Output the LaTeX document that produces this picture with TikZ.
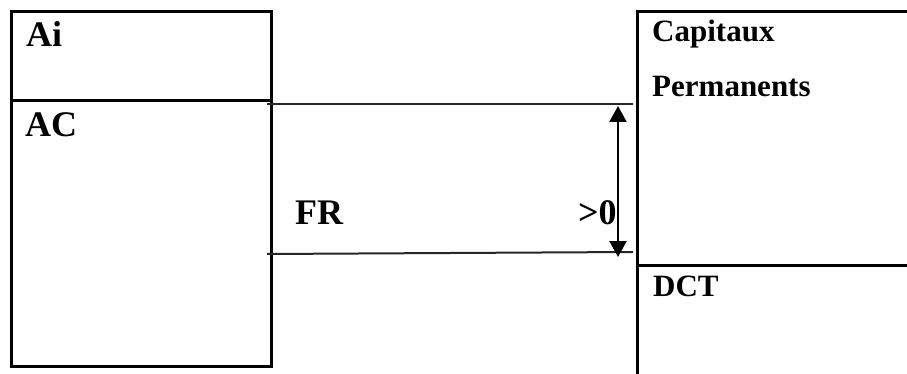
\documentclass[tikz,border=0pt]{standalone}
\usepackage{fontspec}
\setmainfont{Liberation Serif}
\usetikzlibrary{arrows.meta}
\begin{document}
\begin{tikzpicture}[x=1pt,y=-1pt,
  boxline/.style={line width=3pt},
  thinline/.style={line width=2pt, black!85},
  bigtxt/.style={anchor=base west, inner sep=0pt, font=\fontsize{36}{40}\selectfont\bfseries},
  smalltxt/.style={anchor=base west, inner sep=0pt, font=\fontsize{31}{36}\selectfont\bfseries},
  dimarrow/.style={line width=2.3pt, {Triangle[width=17pt,length=16pt]}-{Triangle[width=17pt,length=16pt]}}]
\useasboundingbox (0,0) rectangle (907,374);
% left box
\draw[boxline] (11,12) rectangle (271,366);
\draw[boxline] (11,101) -- (271,101);
% right box (open to the right and bottom)
\draw[boxline] (907,12) -- (637.5,12) -- (637.5,374);
\draw[boxline] (637.5,265) -- (907,265);
% coordinates for the FR band
\coordinate (u1) at (267,104);
\coordinate (u2) at (633,104);
\coordinate (l1) at (267,254);
\coordinate (l2) at (633,252);
\draw[thinline] (u1) -- (u2);
\draw[thinline] (l1) -- (l2);
\coordinate (at) at (618,106);
\coordinate (ab) at (618,257);
\draw[dimarrow] (at) -- (ab);
% texts
\node[bigtxt] (ai) at (26,47) {Ai};
\node[bigtxt] (ac) at (25,137) {AC};
\node[bigtxt] (fr) at (295,224) {FR};
\node[bigtxt] (gt) at (578,225) {>0};
\node[smalltxt] (cap) at (652,42) {Capitaux};
\node[smalltxt] (perm) at (652,97) {Permanents};
\node[smalltxt] (dct) at (653,296) {DCT};
\end{tikzpicture}
\end{document}
